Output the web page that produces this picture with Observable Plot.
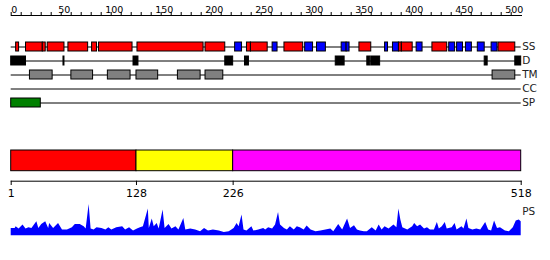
<!DOCTYPE html>
<html>
<head>
<meta charset="utf-8">
<script src="https://cdn.jsdelivr.net/npm/d3@7"></script>
<script src="https://cdn.jsdelivr.net/npm/@observablehq/plot@0.6"></script>
<style>
  html, body { margin: 0; padding: 0; background: white; }
  #chart { position: relative; width: 550px; height: 260px; overflow: hidden; font-family: "DejaVu Sans", sans-serif; }
  #chart svg { position: absolute; left: 0; }
</style>
</head>
<body>
<div id="chart"></div>
<script>
// ---- data ----
const seqLength = 518;
const rulerTicks = d3.range(0, 501, 10);
const rulerLabels = [0, 50, 100, 150, 200, 250, 300, 350, 400, 450, 500];
const tracks = ["SS", "D", "TM", "CC", "SP"];

// secondary structure: helix (red) and strand (blue) segments [start, end]
const helix = [[6,9],[16,33],[33,36],[38,55],[59,79],[83,88],[90,124],[129,196],[198,218],[240,244],[244,261],[278,297],[354,366],[394,397],[397,408],[428,443],[495,512]];
const strand = [[228,235],[266,271],[299,307],[311,320],[336,341],[341,344],[380,383],[388,394],[412,418],[445,451],[453,459],[462,468],[474,481],[488,494]];
// disorder
const disorder = [[1,16],[54,55],[125,130],[218,226],[238,242],[330,339],[362,365],[366,375],[481,484],[512,518]];
// transmembrane
const transmembrane = [[20,43],[62,84],[99,122],[128,150],[170,193],[198,216],[489,512]];
// coiled coil
const coiledCoil = [];
// signal peptide
const signalPeptide = [[1,31]];

// domain boundaries
const domainStart = [1, 128, 226];
const domainEnd = [128, 226, 518];
const domainColor = ["#ff0000", "#ffff00", "#ff00ff"];
const domainTicks = [1, 128, 226, 518];

// PS profile
const psPos = [1,5,6,9,13,16,19,22,27,29,32,36,39,40,44,49,53,58,63,66,71,75,77,80,82,85,88,93,97,100,103,108,114,117,121,125,129,132,135,140,141,144,146,149,151,155,157,161,164,168,171,176,178,183,188,193,197,201,206,212,217,222,227,230,232,235,237,240,245,247,252,257,
  259,262,266,269,272,274,278,281,284,288,291,294,298,301,305,310,315,320,325,328,333,337,342,345,349,352,355,359,362,367,371,374,377,380,384,389,392,394,396,398,403,408,410,413,416,420,423,426,430,433,435,438,441,443,448,451,453,458,460,463,465,469,473,477,482,485,488,491,494,497,502,506,510,513,516,518];
const psVal = [7.3,7.3,9,6.7,10.7,6.7,8,7.3,14,7.3,11.3,14,7.3,12.3,7.3,12.3,5.7,5.7,8,11.3,11.3,9,6.7,31.3,6.7,5.7,8,7.3,5.7,8,5.7,8,9,5.7,8,4.7,6.7,8,9,26.7,7.3,16.7,9,12.3,6.7,25.7,7.3,11.3,6.7,9,5.7,17.3,5.7,6.7,5.7,4,7.3,4.7,5.7,4.7,3.3,4,7.3,12.3,9,20.7,5.7,4.7,9,4.7,5.7,7.3,
  5.7,8,6.7,10.7,23.3,10.7,7.3,5.7,9,5.7,9,8,5.7,9.7,5.7,4,4.7,5.7,6.7,4,11.3,5.7,16.7,7.3,10,5.7,4.7,4,4,8,4.7,10.7,5.7,9,6.7,10.7,8,26.7,15.7,8,5.7,9,12.3,9,10.7,6.7,8,5.7,5.7,13.3,6.7,9,13.3,6.7,8,12.3,5.7,9,6.7,16.7,7.3,5.7,6.7,5.7,13.3,5.7,4.7,14.7,7.3,8,4.7,4,8,14.7,15.7,14];

// ---- derived tables ----
const features = [
  ...helix.map(([s, e]) => ({track: "SS", s, e, fill: "#ff0000"})),
  ...strand.map(([s, e]) => ({track: "SS", s, e, fill: "#0000ff"})),
  ...disorder.map(([s, e]) => ({track: "D", s, e, fill: "#000000"})),
  ...transmembrane.map(([s, e]) => ({track: "TM", s, e, fill: "#808080"})),
  ...coiledCoil.map(([s, e]) => ({track: "CC", s, e, fill: "#00ffff"})),
  ...signalPeptide.map(([s, e]) => ({track: "SP", s, e, fill: "#008000"}))
];
const domains = domainStart.map((s, i) => ({s, e: domainEnd[i], fill: domainColor[i]}));
const ps = psPos.map((p, i) => ({p, v: psVal[i]}));

const FONT = "DejaVu Sans, sans-serif";
const baseStyle = {background: "transparent", overflow: "visible", fontFamily: FONT, color: "black"};
const seqX = {domain: [1, seqLength], range: [10.7, 520.7], axis: null};
const chart = document.getElementById("chart");
function place(svg, top) { svg.style.top = top + "px"; svg.style.position = "absolute"; chart.appendChild(svg); }

// top ruler
place(Plot.plot({
  width: 550, height: 20, marginLeft: 10.7, marginRight: 29, marginTop: 12, marginBottom: 5,
  style: baseStyle,
  x: {domain: [0, 500], range: [10.7, 510.7], axis: null},
  marks: [
    Plot.frame({anchor: "bottom", stroke: "black"}),
    Plot.tickX(rulerTicks, {x: d => d, stroke: "black"}),
    Plot.text(rulerLabels, {x: d => d, text: d => String(d), frameAnchor: "top", lineAnchor: "bottom", dx: 3, dy: 0, fontSize: 9.5, fill: "black"})
  ]
}), 0);

// feature tracks
place(Plot.plot({
  width: 550, height: 100, marginLeft: 10.7, marginRight: 29.3, marginTop: 0, marginBottom: 0,
  style: baseStyle,
  x: seqX,
  y: {type: "band", domain: tracks, range: [17.5, 92.5], paddingInner: 0.333, paddingOuter: 0.1667, axis: null},
  marks: [
    Plot.ruleY(tracks, {y: d => d, stroke: "black"}),
    Plot.barX(features, {x1: "s", x2: "e", y: "track", fill: "fill", stroke: "black", strokeWidth: 1}),
    Plot.text(tracks, {y: d => d, text: d => d, frameAnchor: "right", textAnchor: "start", dx: 1, fontSize: 10.5, fill: "#222"})
  ]
}), 20);

// domain bar
place(Plot.plot({
  width: 550, height: 55, marginLeft: 10.7, marginRight: 29.3, marginTop: 30, marginBottom: 4.3,
  style: baseStyle,
  x: seqX,
  marks: [
    Plot.barX(domains, {x1: "s", x2: "e", fill: "fill", stroke: "black", strokeWidth: 1})
  ]
}), 120);

// domain ruler
place(Plot.plot({
  width: 550, height: 40, marginLeft: 10.7, marginRight: 29.3, marginTop: 5.7, marginBottom: 30,
  style: baseStyle,
  x: seqX,
  marks: [
    Plot.frame({anchor: "top", stroke: "black"}),
    Plot.tickX(domainTicks, {x: d => d, stroke: "black"}),
    Plot.text(domainTicks, {x: d => d, text: d => String(d), frameAnchor: "bottom", lineAnchor: "top", dy: 4, fontSize: 11, fill: "black"})
  ]
}), 175);

// PS profile
place(Plot.plot({
  width: 550, height: 65, marginLeft: 10.7, marginRight: 29.3, marginTop: 0.3, marginBottom: 24.7,
  style: baseStyle,
  x: seqX,
  y: {domain: [0, 40], axis: null},
  marks: [
    Plot.areaY(ps, {x: "p", y: "v", fill: "#0000ff"}),
    Plot.text(["PS"], {text: d => d, frameAnchor: "top-right", textAnchor: "start", dx: 1, dy: 12, fontSize: 10.5, fill: "#222"})
  ]
}), 195);
</script>
</body>
</html>
